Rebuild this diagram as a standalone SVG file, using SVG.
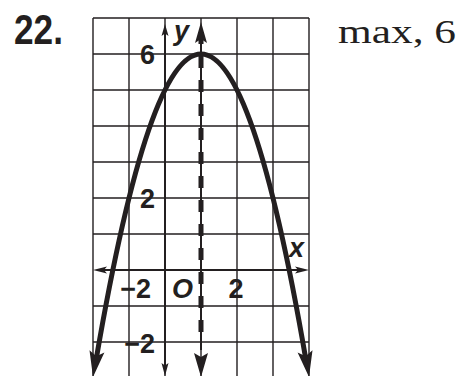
<svg xmlns="http://www.w3.org/2000/svg" width="462" height="376" viewBox="0 0 462 376">
<style>
.grid{stroke:#231f20;stroke-width:1.4;fill:none}
.axis{stroke:#231f20;stroke-width:2;fill:none}
.head{fill:#231f20;stroke:none}
.lbl{font-family:"Liberation Sans",Arial,sans-serif;font-weight:bold;font-size:27px;fill:#231f20}
.it{font-style:italic}
</style>
<rect width="462" height="376" fill="#ffffff"/>
<text x="14" y="44" font-family="'Liberation Sans',Arial,sans-serif" font-weight="bold" font-size="42" fill="#231f20" textLength="49" lengthAdjust="spacingAndGlyphs">22.</text>
<text x="338" y="43" font-family="'Liberation Serif','Times New Roman',serif" font-size="34" fill="#231f20" textLength="118" lengthAdjust="spacingAndGlyphs">max, 6</text>
<g id="grid" class="grid">
<path d="M93,18V376M129,18V376M165,18V376M201,18V376M237,18V376M273,18V376M309,18V376"/>
<path d="M93,18H309M93,54H309M93,90H309M93,126H309M93,162H309M93,198H309M93,234H309M93,306H309M93,342H309"/>
</g>
<g id="connectors">
<g id="x-axis">
<path class="axis" d="M104,270H298"/>
<polygon class="head" points="93,270 107,266.5 104,270 107,273.5"/>
<polygon class="head" points="309,270 295,266.5 298,270 295,273.5"/>
</g>
<g id="y-axis">
<path class="axis" d="M165,33V366"/>
<polygon class="head" points="165,24 161.5,36 165,33.5 168.5,36"/>
<polygon class="head" points="165,376 161.5,363 165,365.5 168.5,363"/>
</g>
<g id="axis-of-symmetry">
<path class="axis" d="M201,40V350"/>
<path d="M201,32V344" stroke="#231f20" stroke-width="5" stroke-dasharray="12 12" fill="none"/>
<polygon class="head" points="201,22 195,43 201,39 207,43"/>
<polygon class="head" points="201,377 194,353 201,357 208,353"/>
</g>
<g id="parabola">
<path d="M96.4,358 Q201,-250.1 305.6,358" stroke="#231f20" stroke-width="5" fill="none"/>
<polygon class="head" points="93,377 89.5,350.2 96.3,356.3 104.4,352.5"/>
<polygon class="head" points="309,377 312.5,350.2 305.7,356.3 297.6,352.5"/>
</g>
</g>
<g id="labels">
<text class="lbl it" x="174" y="39.5">y</text>
<text class="lbl" x="147.5" y="64" text-anchor="middle">6</text>
<text class="lbl" x="147.5" y="208" text-anchor="middle">2</text>
<text class="lbl it" x="289" y="257">x</text>
<text class="lbl" x="151" y="298" text-anchor="end">−2</text>
<text class="lbl it" x="182.5" y="298" text-anchor="middle">O</text>
<text class="lbl" x="236" y="298" text-anchor="middle">2</text>
<text class="lbl" x="155" y="353" text-anchor="end">−2</text>
</g>
</svg>
